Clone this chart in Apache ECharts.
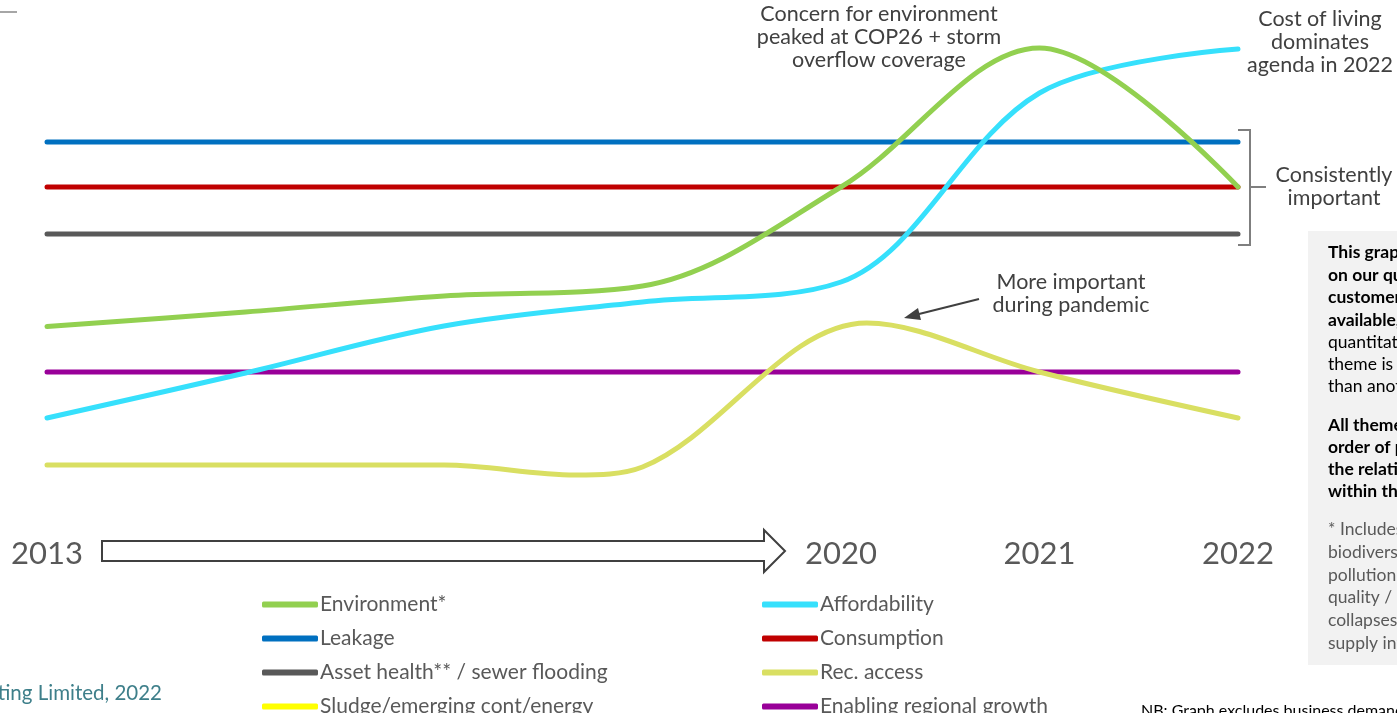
<!DOCTYPE html>
<html>
<head>
<meta charset="utf-8">
<script src="https://cdn.jsdelivr.net/npm/echarts@6/dist/echarts.min.js"></script>
<style>
html,body{margin:0;padding:0;background:#fff;}
#c{width:1397px;height:713px;}
</style>
</head>
<body>
<div id="c"></div>
<script>
// ---- data ----
const xPositions = [0, 1, 2, 3, 4, 5, 6];
const tickPositions = [0, 4, 5, 6];
const tickLabels = ['2013', '2020', '2021', '2022'];
const environment = [37.3, 40.2, 43.4, 45.4, 65.2, 93.0, 65.2];
const affordability = [19.0, 28.0, 37.4, 42.2, 46.2, 84.0, 92.8];
const recAccessX = [0, 1, 2, 2.66, 3, 4.13, 5, 6];
const recAccess = [9.6, 9.6, 9.6, 7.6, 9.2, 38.0, 28.2, 19.0];
const leakageLevel = 74.2;
const consumptionLevel = 65.2;
const assetHealthLevel = 55.8;
const enablingLevel = 28.2;
const sludge = [];
const seriesNames = ['Environment*', 'Affordability', 'Leakage', 'Consumption',
  'Asset health** / sewer flooding', 'Rec. access', 'Sludge/emerging cont/energy', 'Enabling regional growth'];

// ---- helpers ----
const pairs = (xs, vals) => vals.map((v, i) => [xs[i], v]);
const flat = lvl => [[xPositions[0], lvl], [xPositions[xPositions.length - 1], lvl]];
const FONT = 'Lato, "Open Sans", sans-serif';

function lineSeries(name, data, color, z) {
  return {
    name, type: 'line', data, smooth: 0.34, showSymbol: false, symbol: 'none',
    color, z: z || 2,
    lineStyle: { width: 5, color, cap: 'round', join: 'round' },
    emphasis: { disabled: true }, silent: true, animation: false
  };
}

const chart = echarts.init(document.getElementById('c'), null, { renderer: 'canvas' });

const legendCommon = {
  orient: 'vertical', icon: 'roundRect', itemWidth: 56, itemHeight: 6, itemGap: 13,
  padding: 0, selectedMode: false, height: 200,
  textStyle: { fontFamily: FONT, fontSize: 21, color: '#595959', lineHeight: 20, padding: [0, 0, 0, -3] }
};

const option = {
  backgroundColor: '#ffffff',
  animation: false,
  grid: { left: 47, right: 159, top: 13, height: 500 },
  xAxis: {
    type: 'value', min: 0, max: 6, interval: 1,
    axisLine: { show: false }, axisTick: { show: false }, splitLine: { show: false },
    axisLabel: {
      margin: 25, fontSize: 31, fontFamily: FONT, color: '#595959',
      formatter: v => { const i = tickPositions.indexOf(v); return i >= 0 ? tickLabels[i] : ''; }
    }
  },
  yAxis: {
    type: 'value', min: 0, max: 100, show: false, splitLine: { show: false }
  },
  legend: [
    Object.assign({}, legendCommon, { left: 262, top: 594, data: [seriesNames[0], seriesNames[2], seriesNames[4], seriesNames[6]] }),
    Object.assign({}, legendCommon, { left: 762, top: 594, data: [seriesNames[1], seriesNames[3], seriesNames[5], seriesNames[7]] })
  ],
  series: [
    lineSeries(seriesNames[2], flat(leakageLevel), '#0070C0', 2),
    lineSeries(seriesNames[3], flat(consumptionLevel), '#C00000', 2),
    lineSeries(seriesNames[4], flat(assetHealthLevel), '#595959', 2),
    lineSeries(seriesNames[7], flat(enablingLevel), '#990099', 2),
    lineSeries(seriesNames[6], sludge, '#FFFF00', 2),
    lineSeries(seriesNames[5], pairs(recAccessX, recAccess), '#D9DF62', 3),
    lineSeries(seriesNames[1], pairs(xPositions, affordability), '#36E0FC', 3),
    lineSeries(seriesNames[0], pairs(xPositions, environment), '#92D050', 4)
  ],
  graphic: [
    { type: 'line', shape: { x1: 0, y1: 12, x2: 17, y2: 12 }, style: { stroke: '#A6A6A6', lineWidth: 2 } },
    { type: 'polygon', shape: { points: [[102, 541], [764, 541], [764, 530], [785, 551], [764, 572], [764, 561], [102, 561]] },
      style: { fill: '#ffffff', stroke: '#404040', lineWidth: 2 } },
    { type: 'text', x: 879, y: 37, style: { text: 'Concern for environment\npeaked at COP26 + storm\noverflow coverage',
      font: '21.5px ' + FONT, fill: '#404040', align: 'center', verticalAlign: 'middle', lineHeight: 23 } },
    { type: 'text', x: 1320, y: 42, style: { text: 'Cost of living\ndominates\nagenda in 2022',
      font: '21.5px ' + FONT, fill: '#404040', align: 'center', verticalAlign: 'middle', lineHeight: 23 } },
    { type: 'text', x: 1334, y: 186.5, style: { text: 'Consistently\nimportant',
      font: '21.5px ' + FONT, fill: '#404040', align: 'center', verticalAlign: 'middle', lineHeight: 23 } },
    { type: 'text', x: 1071, y: 293.5, style: { text: 'More important\nduring pandemic',
      font: '21.5px ' + FONT, fill: '#404040', align: 'center', verticalAlign: 'middle', lineHeight: 23 } },
    { type: 'polyline', shape: { points: [[1238, 130], [1250, 130], [1250, 245], [1238, 245]] },
      style: { stroke: '#7F7F7F', lineWidth: 2, fill: null } },
    { type: 'line', shape: { x1: 1250, y1: 187, x2: 1266, y2: 187 }, style: { stroke: '#7F7F7F', lineWidth: 2 } },
    { type: 'line', shape: { x1: 979, y1: 299, x2: 915, y2: 315 }, style: { stroke: '#404040', lineWidth: 2 } },
    { type: 'polygon', shape: { points: [[904, 318], [918, 308], [921, 320]] }, style: { fill: '#404040' } },
    { type: 'rect', shape: { x: 1308, y: 231, width: 100, height: 434 }, style: { fill: '#F2F2F2' } },
    { type: 'text', x: 1328, y: 241, style: { text: 'This graph is based\non our qualitative\ncustomer insight\navailable, not',
      font: 'bold 17.5px ' + FONT, fill: '#000000', align: 'left', verticalAlign: 'top', lineHeight: 22.6 } },
    { type: 'text', x: 1328, y: 331, style: { text: 'quantitative data. A\ntheme is not higher\nthan another',
      font: '17.5px ' + FONT, fill: '#000000', align: 'left', verticalAlign: 'top', lineHeight: 22.2 } },
    { type: 'text', x: 1328, y: 414, style: { text: 'All themes are in\norder of priority:\nthe relative position\nwithin the graph',
      font: 'bold 17.5px ' + FONT, fill: '#000000', align: 'left', verticalAlign: 'top', lineHeight: 22.2 } },
    { type: 'text', x: 1328, y: 518, style: { text: '* Includes river\nbiodiversity,\npollution incidents,\nquality / odour,\ncollapses and\nsupply interruptions',
      font: '17.5px ' + FONT, fill: '#595959', align: 'left', verticalAlign: 'top', lineHeight: 22.8 } },
    { type: 'text', x: 162, y: 693, style: { text: '© Economic Consulting Limited, 2022',
      font: '20.5px ' + FONT, fill: '#3E7F8A', align: 'right', verticalAlign: 'middle' } },
    { type: 'text', x: 1141, y: 703, style: { text: 'NB: Graph excludes business demand',
      font: '16px ' + FONT, fill: '#000000', align: 'left', verticalAlign: 'top' } }
  ]
};
chart.setOption(option);
</script>
</body>
</html>
